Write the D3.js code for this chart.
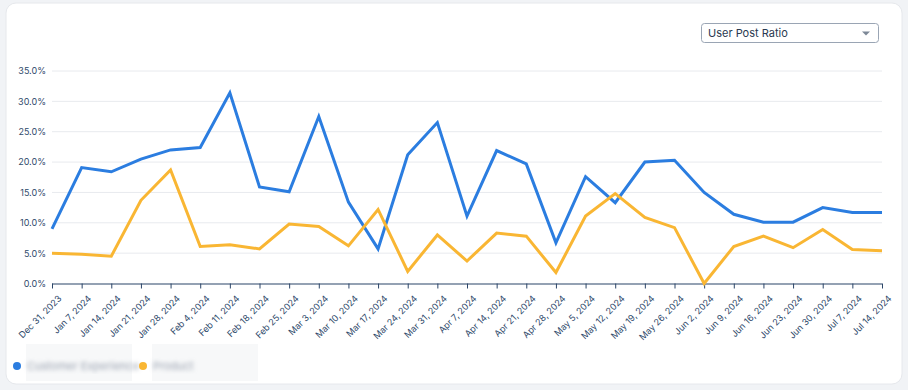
<!DOCTYPE html>
<html>
<head>
<meta charset="utf-8">
<script src="https://cdn.jsdelivr.net/npm/d3@7"></script>
<style>
html,body{margin:0;padding:0;background:#f1f3f6;}
body{width:908px;height:390px;overflow:hidden;font-family:Inter,"Noto Sans",sans-serif;}
</style>
</head>
<body>
<svg id="chart" width="908" height="390"></svg>
<script>
const dates = ["Dec 31, 2023","Jan 7, 2024","Jan 14, 2024","Jan 21, 2024","Jan 28, 2024","Feb 4, 2024","Feb 11, 2024","Feb 18, 2024","Feb 25, 2024","Mar 3, 2024","Mar 10, 2024","Mar 17, 2024","Mar 24, 2024","Mar 31, 2024","Apr 7, 2024","Apr 14, 2024","Apr 21, 2024","Apr 28, 2024","May 5, 2024","May 12, 2024","May 19, 2024","May 26, 2024","Jun 2, 2024","Jun 9, 2024","Jun 16, 2024","Jun 23, 2024","Jun 30, 2024","Jul 7, 2024","Jul 14, 2024"];
const customerExperience = [9.0,19.1,18.4,20.5,22.0,22.4,31.4,15.9,15.1,27.5,13.4,5.7,21.2,26.5,11.1,21.9,19.7,6.7,17.6,13.3,20.0,20.3,15.0,11.4,10.1,10.1,12.5,11.7,11.7];
const product = [5.0,4.8,4.5,13.7,18.7,6.1,6.4,5.7,9.8,9.4,6.2,12.2,2.0,8.0,3.7,8.3,7.8,1.8,11.1,14.8,10.9,9.2,0.0,6.1,7.8,5.9,8.9,5.6,5.4];
const yTicks = [0,5,10,15,20,25,30,35];
const seriesNames = ["Customer Experience","Product"];
const colors = ["#2b7de0","#f9b633"];
const dropdownLabel = "User Post Ratio";

const svg = d3.select("#chart");
// card
svg.append("rect").attr("x",6).attr("y",3).attr("width",896).attr("height",381)
  .attr("rx",10).attr("fill","#fff").attr("stroke","#e6e8ec");

const m = {left:52,right:882,top:71,bottom:283.5};
const x = d3.scalePoint().domain(dates).range([m.left,m.right]);
const y = d3.scaleLinear().domain([0,35]).range([m.bottom,m.top]);

// gridlines
svg.append("g").selectAll("line").data(yTicks.filter(d=>d>0)).join("line")
  .attr("x1",m.left).attr("x2",m.right).attr("y1",d=>y(d)).attr("y2",d=>y(d))
  .attr("stroke","#e8eaee").attr("stroke-width",1);

// y axis labels
const yAxis = svg.append("g").attr("transform",`translate(${m.left},0)`)
  .call(d3.axisLeft(y).tickValues(yTicks).tickFormat(d=>d.toFixed(1)+"%").tickSize(0).tickPadding(6));
yAxis.select(".domain").remove();
yAxis.selectAll("text").attr("fill","#2f4a6b").attr("font-size","9px").attr("font-family","Inter,sans-serif");

// x axis
const xAxis = svg.append("g").attr("transform",`translate(0,${m.bottom})`)
  .call(d3.axisBottom(x).tickSize(5).tickSizeOuter(0));
xAxis.select(".domain").attr("stroke","#2b4568").attr("stroke-width",1.2).attr("d",`M${m.left},0.5H${m.right}`);
xAxis.selectAll(".tick line").attr("stroke","#2b4568");
xAxis.selectAll("text").attr("fill","#2f4a6b").attr("font-size","9px").attr("font-family","Inter,sans-serif")
  .attr("text-anchor","end").attr("dy","0").attr("transform","translate(4,10) rotate(-45)");

// lines
const line = d3.line().x((d,i)=>x(dates[i])).y(d=>y(d));
[customerExperience,product].forEach((s,i)=>{
  svg.append("path").datum(s).attr("d",line).attr("fill","none")
    .attr("stroke",colors[i]).attr("stroke-width",3).attr("stroke-linejoin","miter").attr("stroke-miterlimit",3);
});

// dropdown
const dd = svg.append("g");
dd.append("rect").attr("x",701.5).attr("y",23.5).attr("width",177).attr("height",19).attr("rx",3)
  .attr("fill","#fff").attr("stroke","#9aa5b4");
dd.append("text").attr("x",708).attr("y",37).text(dropdownLabel)
  .attr("font-size","11px").attr("fill","#2a3950").attr("font-family","Inter,sans-serif");
dd.append("path").attr("d","M862,31.5h8l-4,4z").attr("fill","#7d8897");

// legend
const defs = svg.append("defs");
defs.append("filter").attr("id","blur").append("feGaussianBlur").attr("stdDeviation",2);
const leg = svg.append("g");
const legX = [17,143];
seriesNames.forEach((n,i)=>{
  leg.append("rect").attr("x",legX[i]+9).attr("y",344).attr("width",106).attr("height",37).attr("fill","#f7f8f9");
  leg.append("circle").attr("cx",legX[i]).attr("cy",366).attr("r",4).attr("fill",colors[i]);
  leg.append("text").attr("x",legX[i]+10).attr("y",369.5).text(n).attr("font-size","11px")
    .attr("fill","#9aa2b0").attr("filter","url(#blur)").attr("font-family","Inter,sans-serif");
});
</script>
</body>
</html>
